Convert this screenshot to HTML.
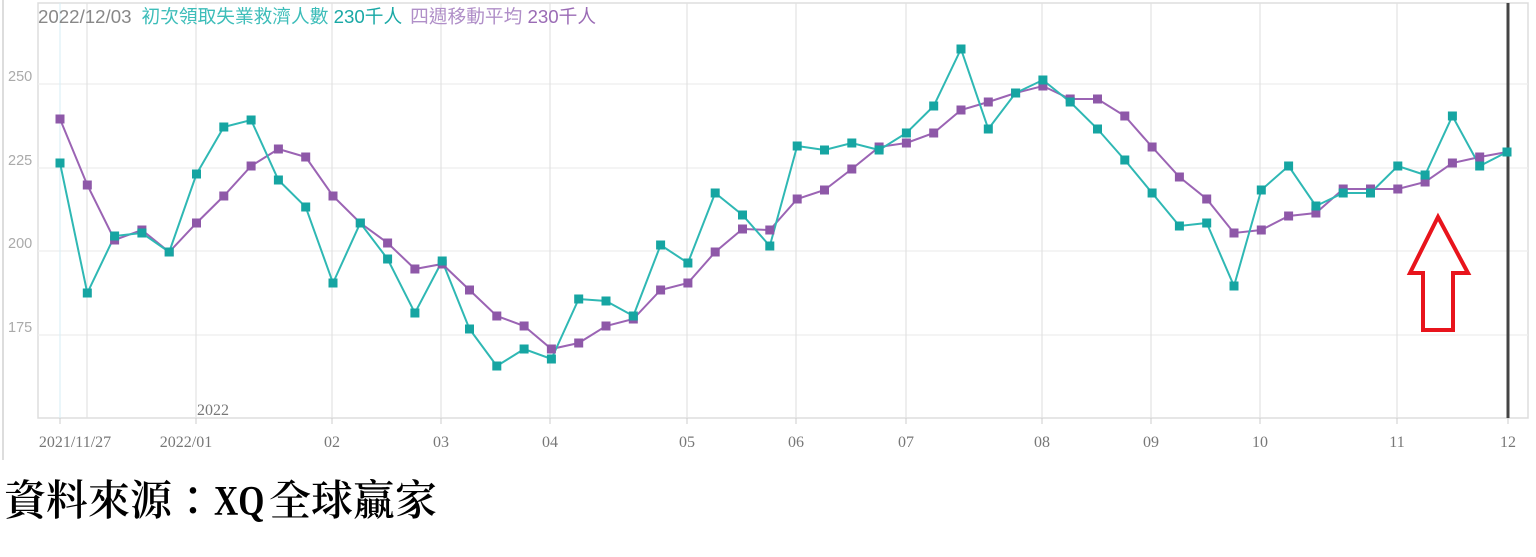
<!DOCTYPE html>
<html><head><meta charset="utf-8"><style>
html,body{margin:0;padding:0;background:#fff;width:1536px;height:557px;overflow:hidden}
svg{position:absolute;left:0;top:0}
.src{position:absolute;left:4px;top:468px;font-family:"Noto Serif CJK TC","Noto Serif CJK SC","Liberation Serif",serif;font-size:42px;font-weight:600;color:#000;letter-spacing:0px;white-space:nowrap}
.src span{font-family:"Liberation Serif",serif;display:inline-block;transform:scaleX(0.8);transform-origin:left;margin-right:-8px}
</style></head><body>
<svg id="c" width="1536" height="557" xmlns="http://www.w3.org/2000/svg"></svg>
<div class="src">資料來源：<span>XQ</span>全球贏家</div>
<script>
const s=document.getElementById('c');let h='';
const teal=[163,293,236,233,252,174,127,120,180,207,283,223,259,313,261,329,366,349,359,299,301,316,245,263,193,215,246,146,150,143,150,133,106,49,129,93,80,102,129,160,193,226,223,286,190,166,206,193,193,166,175,116,166,152];
const pur=[119,185,240,230,252,223,196,166,149,157,196,223,243,269,264,290,316,326,349,343,326,319,290,283,252,229,230,199,190,169,147,143,133,110,102,93,86,99,99,116,147,177,199,233,230,216,213,189,189,189,182,163,157,152];
const X=i=>60+i*(1447/53);
h+='<line x1="3" y1="0" x2="3" y2="460" stroke="#bbb" stroke-width="1"/>';
h+='<rect x="38" y="3" width="1490" height="415" fill="none" stroke="#ddd" stroke-width="1.5"/>';
[[84,'250'],[168,'225'],[251,'200'],[335,'175']].forEach(([y,t])=>{h+=`<line x1="38" y1="${y}" x2="1528" y2="${y}" stroke="#eee" stroke-width="1.2"/><text x="8" y="${y-3}" font-family="Liberation Sans" font-size="14.5" fill="#aaa">${t}</text>`});
h+='<line x1="60" y1="3" x2="60" y2="418" stroke="#d5eef5" stroke-width="1"/>';
[87,196,332,441,550,687,796,906,1042,1151,1260,1397].forEach(x=>h+=`<line x1="${x}" y1="3" x2="${x}" y2="418" stroke="#e2e2e2" stroke-width="1.2"/>`);
h+='<line x1="1508" y1="3" x2="1508" y2="418" stroke="#444" stroke-width="3"/>';
[60,196,332,441,550,687,796,906,1042,1151,1260,1397,1508].forEach(x=>{h+=`<line x1="${x}" y1="418" x2="${x}" y2="424" stroke="#ccc"/>`});
[[75,'2021/11/27'],[186,'2022/01'],[332,'02'],[441,'03'],[550,'04'],[687,'05'],[796,'06'],[906,'07'],[1042,'08'],[1151,'09'],[1260,'10'],[1397,'11'],[1508,'12']].forEach(([x,t])=>{h+=`<text x="${x}" y="447" text-anchor="middle" font-family="Liberation Serif" font-size="16" fill="#777">${t}</text>`});
h+='<text x="197" y="415" font-family="Liberation Serif" font-size="16" fill="#777">2022</text>';
const line=(a,c)=>{h+=`<polyline fill="none" stroke="${c}" stroke-width="2" points="${a.map((y,i)=>X(i).toFixed(1)+','+y).join(' ')}"/>`};
const mk=(a,c)=>a.forEach((y,i)=>h+=`<rect x="${(X(i)-4.5).toFixed(1)}" y="${y-4.5}" width="9" height="9" fill="${c}"/>`);
line(pur,'#9b64b4');line(teal,'#2fb8b4');mk(pur,'#8e58a8');mk(teal,'#16a5a2');
h+='<path d="M1438,217 L1468,273 L1453,273 L1453,330 L1423,330 L1423,273 L1410,273 Z" fill="none" stroke="#e8141c" stroke-width="4" stroke-linejoin="miter"/>';
h+='<text x="38" y="23" font-family="Liberation Sans,Noto Sans CJK TC,sans-serif" font-size="18.7"><tspan fill="#888">2022/12/03</tspan><tspan fill="#3dbdb9" dx="10">初次領取失業救濟人數 </tspan><tspan fill="#19a8a5">230千人</tspan><tspan fill="#b08fc8" dx="8">四週移動平均 </tspan><tspan fill="#9a6bb5">230千人</tspan></text>';
s.innerHTML=h;
</script>
</body></html>
